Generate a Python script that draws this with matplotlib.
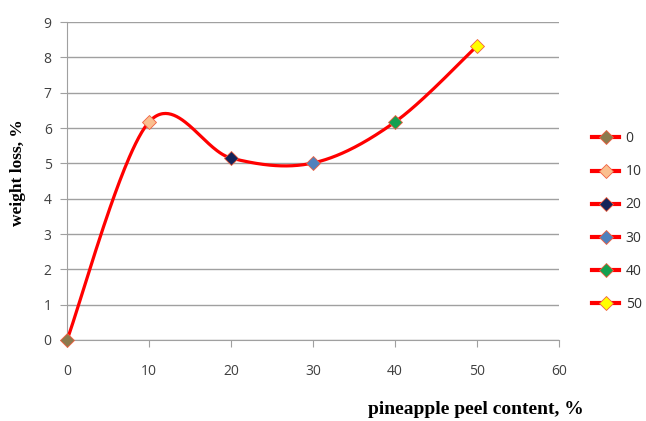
import numpy as np
import matplotlib
matplotlib.use("Agg")
import matplotlib.pyplot as plt
from matplotlib.lines import Line2D

# pineapple peel content (%) and weight loss (%)
content = [0, 10, 20, 30, 40, 50]
weight_loss = [0.0, 6.17, 5.15, 5.01, 6.17, 8.32]
labels = ['0', '10', '20', '30', '40', '50']
marker_colors = ['#8c7a4e', '#fabf8f', '#14245a', '#4f81bd', '#14a050', '#ffff00']


def smooth_line(xs, ys, n=60):
    # excel-like smoothed line (catmull-rom as cubic bezier)
    pts = np.column_stack([xs, ys]).astype(float)
    out = []
    for i in range(len(pts) - 1):
        p0 = pts[max(i - 1, 0)]
        p1 = pts[i]
        p2 = pts[i + 1]
        p3 = pts[min(i + 2, len(pts) - 1)]
        c1 = p1 + (p2 - p0) / 6.0
        c2 = p2 - (p3 - p1) / 6.0
        t = np.linspace(0, 1, n)[:, None]
        seg = ((1 - t) ** 3 * p1 + 3 * (1 - t) ** 2 * t * c1
               + 3 * (1 - t) * t ** 2 * c2 + t ** 3 * p2)
        out.append(seg if i == 0 else seg[1:])
    out = np.vstack(out)
    return out[:, 0], out[:, 1]


fig = plt.figure(figsize=(6.46, 4.21), dpi=100)
ax = fig.add_axes([0.1037, 0.1924, 0.7616, 0.7553])

sx, sy = smooth_line(content, weight_loss)
ax.plot(sx, sy, color='#ff0000', lw=2.3, zorder=3, solid_capstyle='round')
for x, y, c in zip(content, weight_loss, marker_colors):
    ax.plot(x, y, marker='D', ms=7, mfc=c, mec='#f06040', mew=0.6, zorder=4,
            clip_on=False)

ax.set_xlim(0, 60)
ax.set_ylim(0, 9)
ax.set_xticks(range(0, 61, 10))
ax.set_yticks(range(0, 10))
ax.grid(axis='y', color='#a0a0a0', lw=1)
ax.set_axisbelow(True)
for s in ['top', 'right']:
    ax.spines[s].set_visible(False)
for s in ['left', 'bottom']:
    ax.spines[s].set_color('#a0a0a0')
ax.tick_params(axis='both', colors='#a0a0a0', length=5, labelcolor='#404040',
               labelsize=10)
ax.tick_params(axis='x', pad=12)
ax.tick_params(axis='y', pad=6)
for lab in ax.get_xticklabels() + ax.get_yticklabels():
    lab.set_fontfamily('Open Sans')

fig.text(0.737, 0.008, 'pineapple peel content, %', ha='center', va='bottom',
         fontfamily='Liberation Serif', fontweight='bold', fontsize=14)
fig.text(0.028, 0.591, 'weight loss, %', ha='center', va='center', rotation=90,
         fontfamily='Liberation Serif', fontweight='bold', fontsize=12.5)

handles = [Line2D([], [], color='#ff0000', lw=3, marker='D', ms=7,
                  mfc=c, mec='#f06040', mew=0.6) for c in marker_colors]
leg = fig.legend(handles, labels, loc='upper left', bbox_to_anchor=(0.917, 0.688),
                 frameon=False, prop={'family': 'Open Sans', 'size': 10},
                 handlelength=1.9, handletextpad=0.5, labelspacing=1.3,
                 borderpad=0, borderaxespad=0)
for t in leg.get_texts():
    t.set_color('#303030')

fig.savefig('out.png', dpi=100)
